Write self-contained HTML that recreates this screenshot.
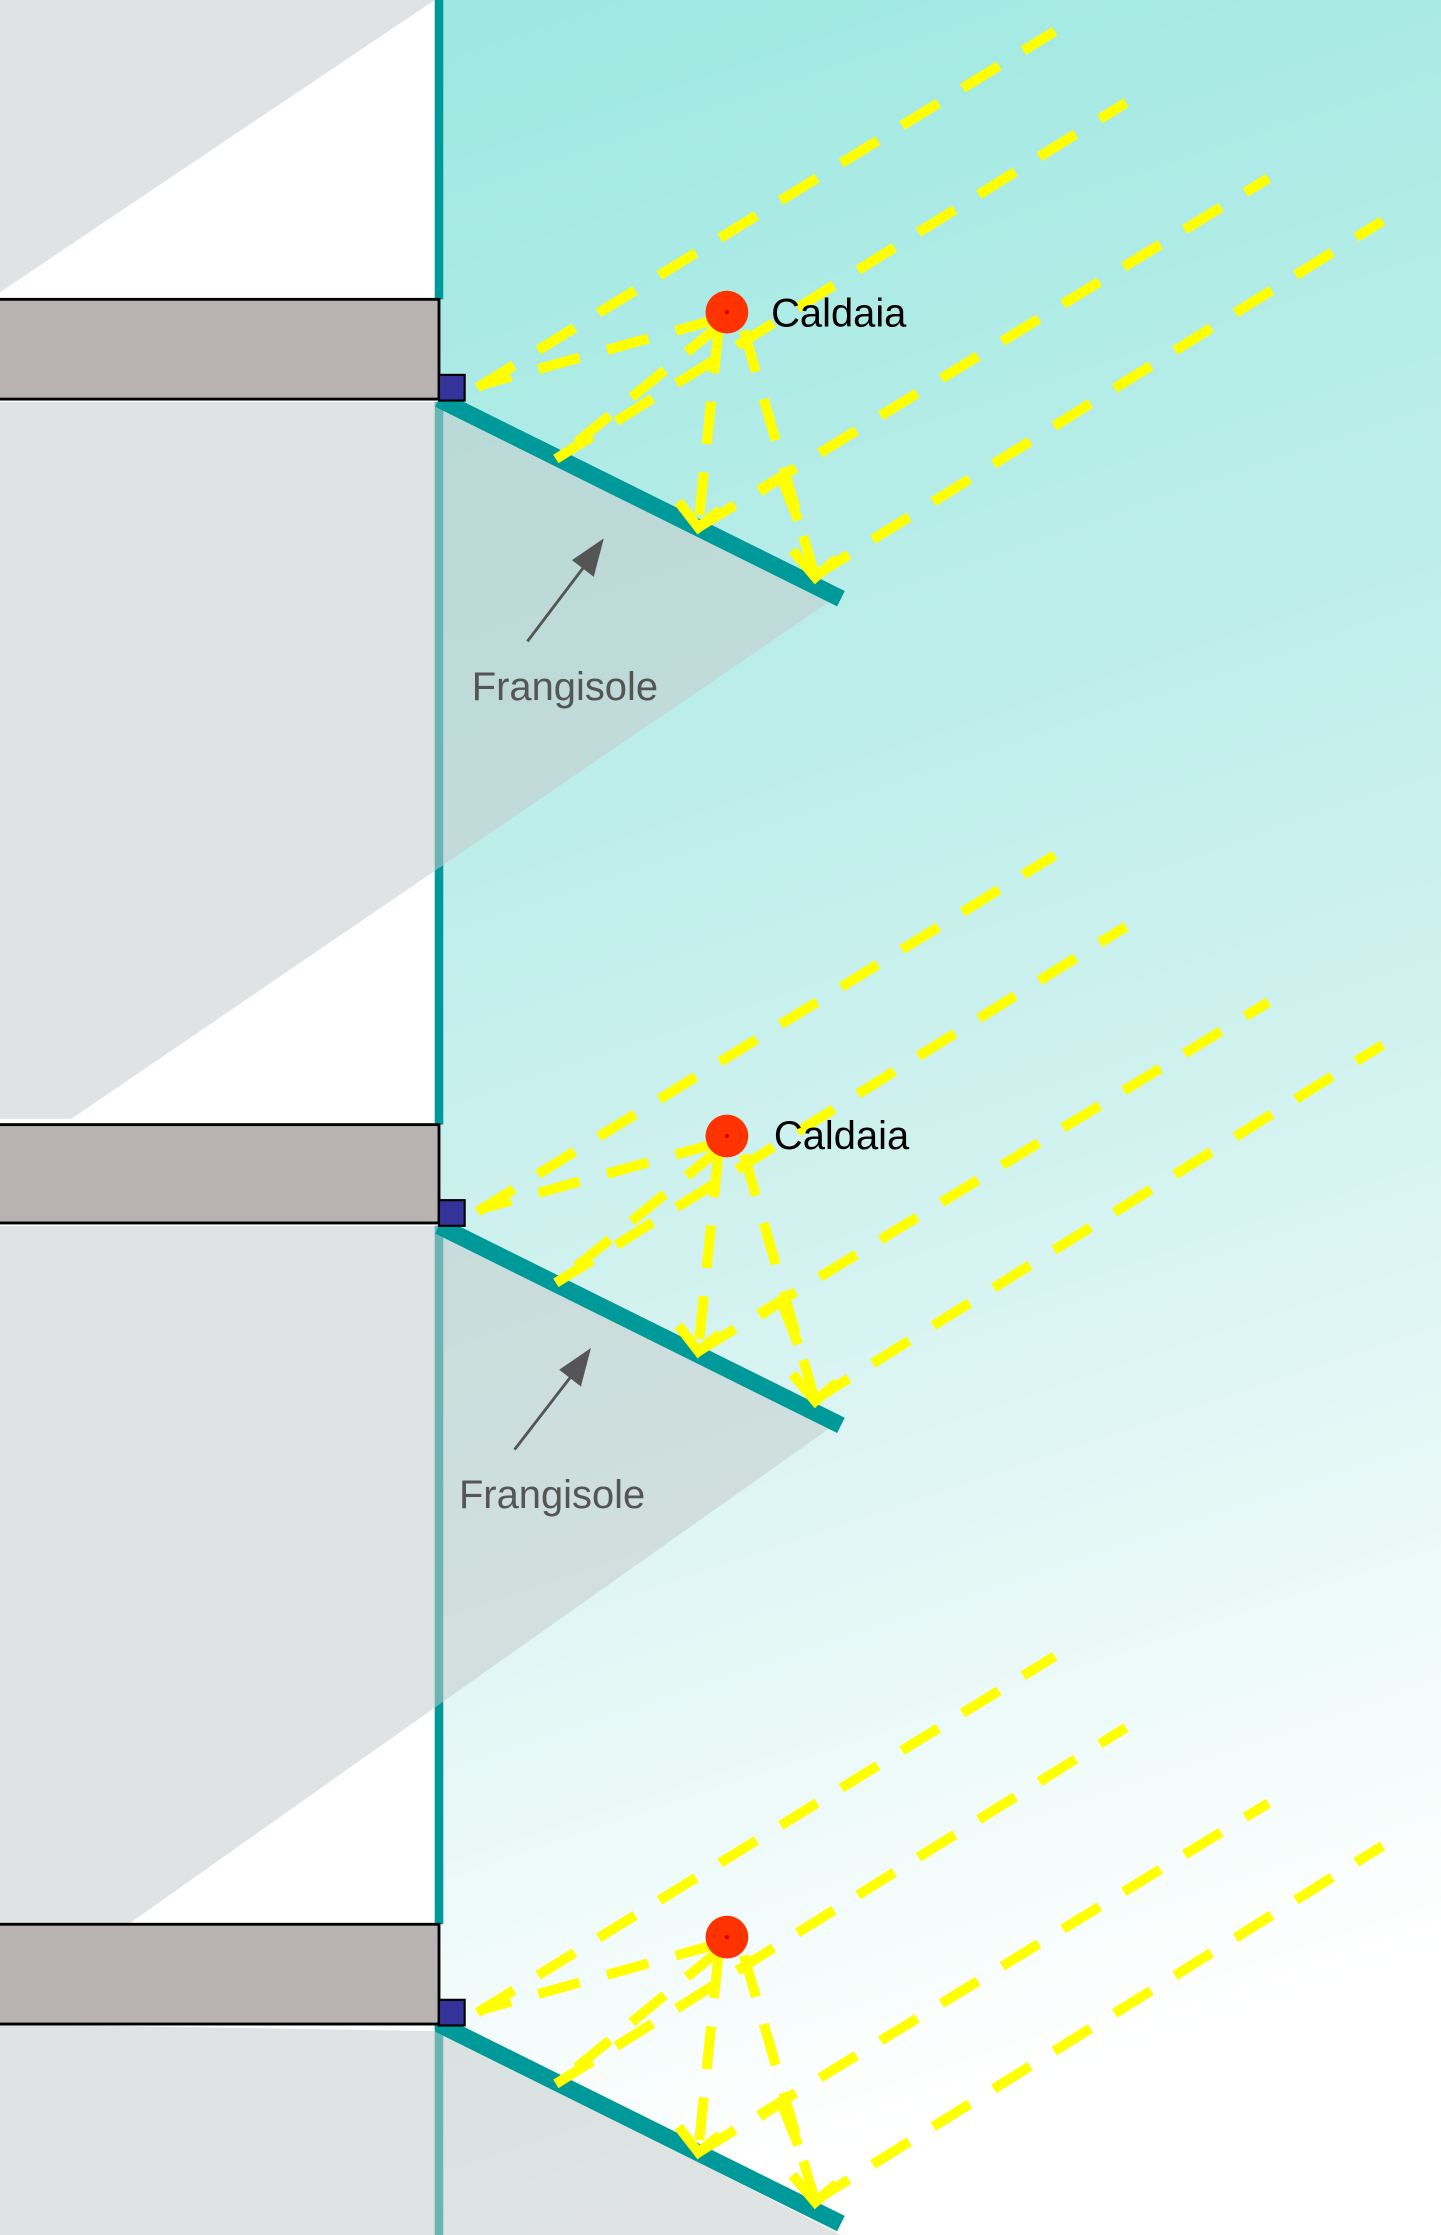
<!DOCTYPE html>
<html><head><meta charset="utf-8"><style>
html,body{margin:0;padding:0;width:1441px;height:2235px;overflow:hidden;background:#fff}
svg{display:block}
text{font-family:"Liberation Sans",Arial,sans-serif}
</style></head><body>
<svg width="1441" height="2235" viewBox="0 0 1011 1568" preserveAspectRatio="none" xmlns="http://www.w3.org/2000/svg">
<defs>
<linearGradient id="bg" x1="0" y1="0" x2="0.15" y2="1">
<stop offset="0" stop-color="#9de8e1"/>
<stop offset="0.55" stop-color="#cdf1ee"/>
<stop offset="1" stop-color="#ffffff"/>
</linearGradient>
<g id="unit">
<g stroke="#ffff00" stroke-width="7" fill="none" stroke-dasharray="30 20">
<line x1="335" y1="272" x2="740" y2="22"/>
<line x1="390" y1="322" x2="790" y2="72"/>
<line x1="490" y1="370" x2="890" y2="125"/>
<line x1="570" y1="405" x2="970" y2="155"/>
<line x1="503" y1="224" x2="338" y2="270"/>
<line x1="505" y1="228" x2="393" y2="320"/>
<line x1="504" y1="232" x2="490" y2="368"/>
<line x1="522" y1="232" x2="572" y2="405"/>
</g>
<g stroke="#ffff00" stroke-width="7" fill="none">
<polyline points="476,352 490,370 505,358"/>
<polyline points="556,386 572,405 587,392"/>
<polyline points="533,345 548,335 560,365"/>
</g>
<circle cx="510" cy="219" r="15" fill="#ff3300"/>
<circle cx="510" cy="219" r="1.5" fill="#cc0000"/>
</g>
</defs>
<rect x="308" y="0" width="703" height="1568" fill="url(#bg)"/>
<rect x="0" y="0" width="308" height="1568" fill="#ffffff"/>
<g fill="#009999">
<rect x="305" y="0" width="6" height="210"/>
<rect x="305" y="282" width="6" height="507"/>
<rect x="305" y="860" width="6" height="490"/>
<rect x="305" y="1420" width="6" height="148"/>
</g>
<g fill="#c4cccc" fill-opacity="0.55">
<polygon points="0,0 305,0 0,205"/>
<polygon points="0,282 310,282 585,420 50,785 0,785"/>
<polygon points="0,860 310,860 585,1000 90,1350 0,1350"/>
<polygon points="0,1420 310,1425 590,1568 0,1568"/>
</g>
<g stroke="#009999" stroke-width="12">
<line x1="308" y1="280" x2="590" y2="420"/>
<line x1="308" y1="860" x2="590" y2="1000"/>
<line x1="308" y1="1420" x2="590" y2="1560"/>
</g>
<g fill="#b8b2b2" stroke="#000" stroke-width="2">
<rect x="-2" y="210" width="310" height="70"/>
<rect x="-2" y="789" width="310" height="69"/>
<rect x="-2" y="1350" width="310" height="70"/>
</g>
<g fill="#333399" stroke="#000" stroke-width="1.5">
<rect x="308" y="263" width="18" height="18"/>
<rect x="308" y="842" width="18" height="18"/>
<rect x="308" y="1403" width="18" height="18"/>
</g>
<use href="#unit"/>
<use href="#unit" transform="translate(0,578)"/>
<use href="#unit" transform="translate(0,1140)"/>
<text x="541" y="229" font-size="28" fill="#000">Caldaia</text>
<text x="543" y="806" font-size="28" fill="#000">Caldaia</text>
<text x="331" y="491" font-size="28" fill="#555">Frangisole</text>
<text x="322" y="1058" font-size="28" fill="#555">Frangisole</text>
<g stroke="#555" stroke-width="2" fill="#555">
<line x1="370" y1="450" x2="414" y2="392"/>
<polygon points="422,380 403,393 416,403"/>
<line x1="361" y1="1017" x2="405" y2="960"/>
<polygon points="413,948 394,961 407,971"/>
</g>
</svg>
</body></html>
